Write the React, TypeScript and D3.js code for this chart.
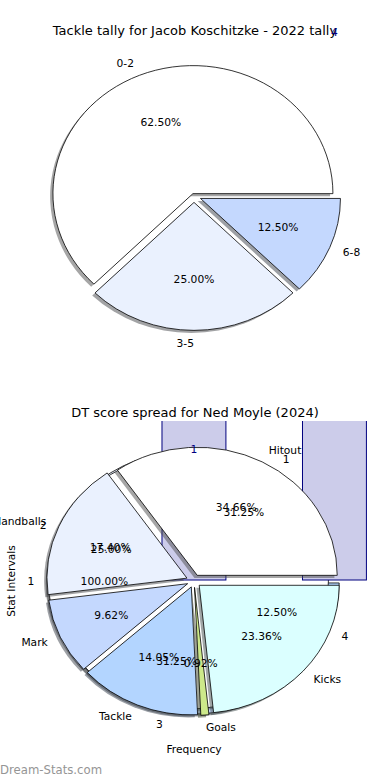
import React from "react";
import * as d3 from "d3";

const W = 390;
const H = 780;

// top chart: tackle tally
const tackleBins = ["0-2", "3-5", "6-8"];
const tackleGames = [5, 2, 1];
const tackleColors = ["#ffffff", "#eaf1fe", "#c4d8fe"];
const tackleExplode = [0.02, 0.05, 0.05];

// bottom chart: DT score spread
const statNames = ["Hitout", "Handballs", "Mark", "Tackle", "Goals", "Kicks"];
const statShares = [34.66, 17.4, 9.62, 14.05, 0.92, 23.36];
const statColors = ["#ffffff", "#eaf1fe", "#c4d8fe", "#b3d5ff", "#cde98a", "#dbffff"];
const statExplode = [0.05, 0.055, 0.05, 0.05, 0.05, 0.05];

// second pie drawn underneath (stat intervals)
const intervalNames = ["1", "2", "3", "4"];
const intervalCounts = [5, 4, 5, 2];
const intervalColors = ["#ffffff", "#eaf1fe", "#c4d8fe", "#b3d5ff"];
const intervalExplode = [0.04, 0.04, 0.04, 0.04];

// third single slice pie
const singleNames = ["1"];
const singleCounts = [1];
const singleColors = ["#ffffff"];
const singleExplode = [0.04];

// histogram bars behind
const barBins = ["low", "high"];
const barCounts = [1, 4];

const RX = 140;
const RY = 128;
const TOP_C = { x: 194, y: 196 };
const BOT_C = { x: 194, y: 581 };
const AX2 = { x: 19, y: 421, w: 350, h: 320 };
const BAR_BASE = 580;

const FONT = "DejaVu Sans, sans-serif";
const LABEL_SIZE = 10.7;
const TITLE_SIZE = 13;

const pieGen = d3
  .pie<number>()
  .sort(null)
  .value((d) => d)
  .startAngle(Math.PI / 2)
  .endAngle(Math.PI / 2 - 2 * Math.PI);

const arcGen = d3.arc<d3.PieArcDatum<number>>().innerRadius(0).outerRadius(1);

function layout(values: number[], explode: number[], c: { x: number; y: number }) {
  const total = d3.sum(values);
  return pieGen(values).map((a, i) => {
    const m = (a.startAngle + a.endAngle) / 2;
    const ux = Math.sin(m);
    const uy = -Math.cos(m);
    const ox = c.x + ux * explode[i] * RX;
    const oy = c.y + uy * explode[i] * RY;
    return {
      d: arcGen(a) as string,
      ox,
      oy,
      lx: ox + ux * 1.1 * RX,
      ly: oy + uy * 1.1 * RY,
      px: ox + ux * 0.6 * RX,
      py: oy + uy * 0.6 * RY,
      anchor: ux * 1.1 > 0 ? "start" : "end",
      pct: ((values[i] / total) * 100).toFixed(2) + "%",
    };
  });
}

function shade(col: string) {
  const c = d3.rgb(col);
  return d3.rgb(c.r * 0.3, c.g * 0.3, c.b * 0.3).formatHex();
}

function Patches({ wedges, colors }: { wedges: ReturnType<typeof layout>; colors: string[] }) {
  return (
    <g>
      {wedges.map((w, i) => (
        <path
          key={"s" + i}
          d={w.d}
          transform={`translate(${w.ox - 0.02 * RX},${w.oy + 0.02 * RY}) scale(${RX},${RY})`}
          fill={shade(colors[i])}
          fillOpacity={0.5}
        />
      ))}
      {wedges.map((w, i) => (
        <path
          key={"w" + i}
          d={w.d}
          transform={`translate(${w.ox},${w.oy}) scale(${RX},${RY})`}
          fill={colors[i]}
          stroke="#000"
          strokeWidth={0.8}
          vectorEffect="non-scaling-stroke"
          strokeLinejoin="round"
        />
      ))}
    </g>
  );
}

function Texts({ wedges, names }: { wedges: ReturnType<typeof layout>; names: string[] }) {
  return (
    <g fontFamily={FONT} fontSize={LABEL_SIZE} fill="#000">
      {wedges.map((w, i) => (
        <text key={"l" + i} x={w.lx} y={w.ly} textAnchor={w.anchor} dominantBaseline="central">
          {names[i]}
        </text>
      ))}
      {wedges.map((w, i) => (
        <text key={"p" + i} x={w.px} y={w.py} textAnchor="middle" dominantBaseline="central">
          {w.pct}
        </text>
      ))}
    </g>
  );
}

export default function App() {
  const tackle = layout(tackleGames, tackleExplode, TOP_C);
  const stats = layout(statShares, statExplode, BOT_C);
  const intervals = layout(intervalCounts, intervalExplode, BOT_C);
  const single = layout(singleCounts, singleExplode, BOT_C);

  const x = d3
    .scaleBand<string>()
    .domain(barBins)
    .range([123.7, 404.7])
    .paddingInner(0.545)
    .paddingOuter(0.2725);
  const yCount = d3.scaleLinear().domain([0, 4]).range([589, 32]);

  return (
    <svg
      width={W}
      height={H}
      style={{ position: "absolute", left: 0, top: 0, background: "#fff" }}
    >
      <defs>
        <clipPath id="ax2">
          <rect x={AX2.x} y={AX2.y} width={AX2.w} height={AX2.h} />
        </clipPath>
      </defs>
      <rect width={W} height={H} fill="#fff" />

      {/* top pie */}
      <Patches wedges={tackle} colors={tackleColors} />

      {/* bottom: layers underneath */}
      <Patches wedges={intervals} colors={intervalColors} />
      <Patches wedges={single} colors={singleColors} />
      <g clipPath="url(#ax2)">
        {barBins.map((b) => (
          <rect
            key={b}
            x={x(b)}
            width={x.bandwidth()}
            y={AX2.y - 5}
            height={BAR_BASE - AX2.y + 5}
            fill="#ccccea"
            stroke="#00007f"
            strokeWidth={1}
          />
        ))}
      </g>
      <Patches wedges={stats} colors={statColors} />

      {/* texts */}
      <text
        x={195}
        y={30}
        textAnchor="middle"
        dominantBaseline="central"
        fontFamily={FONT}
        fontSize={TITLE_SIZE}
      >
        Tackle tally for Jacob Koschitzke - 2022 tally
      </text>
      <Texts wedges={tackle} names={tackleBins} />

      <text
        x={195}
        y={412}
        textAnchor="middle"
        dominantBaseline="central"
        fontFamily={FONT}
        fontSize={TITLE_SIZE}
      >
        DT score spread for Ned Moyle (2024)
      </text>
      <Texts wedges={stats} names={statNames} />
      <Texts wedges={intervals} names={intervalNames} />
      <Texts wedges={single} names={singleNames} />

      <g fontFamily={FONT} fontSize={LABEL_SIZE} fill="#00007f">
        {barBins.map((b, i) => (
          <text
            key={b}
            x={(x(b) as number) + x.bandwidth() / 2}
            y={yCount(barCounts[i])}
            textAnchor="middle"
            dominantBaseline="central"
          >
            {barCounts[i]}
          </text>
        ))}
      </g>

      <text
        x={194}
        y={749}
        textAnchor="middle"
        dominantBaseline="central"
        fontFamily={FONT}
        fontSize={LABEL_SIZE}
      >
        Frequency
      </text>
      <text
        transform={`translate(11,${BOT_C.y}) rotate(-90)`}
        textAnchor="middle"
        dominantBaseline="central"
        fontFamily={FONT}
        fontSize={LABEL_SIZE}
      >
        Stat Intervals
      </text>

      <text
        x={0}
        y={770}
        dominantBaseline="central"
        fontFamily={FONT}
        fontSize={11.7}
        fill="#959595"
      >
        Dream-Stats.com
      </text>
    </svg>
  );
}
